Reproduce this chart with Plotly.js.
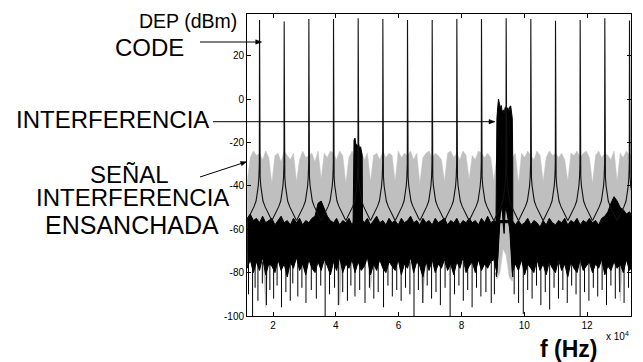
<!DOCTYPE html>
<html>
<head>
<meta charset="utf-8">
<script src="https://cdn.plot.ly/plotly-3.0.1.min.js"></script>
<style>html,body{margin:0;padding:0;background:#fff;}#chart{width:643px;height:362px;}</style>
</head>
<body>
<div id="chart"></div>
<script>
// ---------- DATA ----------
// frequency grid of the sampled spectra (x 10^4 Hz)
const fStart = 1.178;
const fStep = 0.09817;

// spread interference spectrum (grey): upper and lower envelope, dBm
const grayTop = [
 -38,-27,-24,-26,-25,-28,-24,-27,
 -39,-26,-25,-29,-24,-26,-28,-25,
 -38,-28,-24,-27,-26,-25,-29,-24,
 -37,-25,-27,-24,-25,-28,-24,-26,
 -39,-27,-24,-26,-25,-24,-28,-25,
 -38,-26,-25,-28,-24,-27,-25,-26,
 -38,-24,-27,-25,-26,-24,-28,-25,
 -39,-27,-25,-24,-27,-25,-26,-28,
 -38,-25,-24,-27,-25,-28,-24,-26,
 -37,-26,-28,-24,-25,-27,-25,-27,
 -38,-26,-25,-24,-26,-25,-27,-25,
 -39,-25,-27,-24,-26,-28,-24,-26,
 -38,-27,-24,-26,-25,-27,-25,-28,
 -38,-25,-26,-24,-27,-25,-24,-27,
 -39,-26,-24,-27,-25,-26,-28,-24,
 -38,-25,-27,-24,-26,-25
];
const grayBot = [
 -70,-70,-70,-70,-70,-70,-96,-70,
 -70,-70,-70,-70,-70,-70,-70,-70,
 -70,-70,-70,-70,-70,-70,-70,-70,
 -70,-70,-70,-70,-70,-70,-95,-70,
 -70,-70,-70,-70,-70,-70,-70,-70,
 -88,-70,-70,-70,-70,-70,-70,-70,
 -70,-70,-70,-70,-70,-70,-70,-70,
 -70,-94,-70,-70,-70,-70,-70,-70,
 -70,-70,-70,-70,-70,-70,-70,-70,
 -70,-70,-70,-70,-70,-70,-70,-70,
 -70,-83,-80,-69,-72,-82,-84,-70,
 -70,-70,-70,-70,-70,-70,-70,-70,
 -70,-70,-70,-70,-70,-70,-70,-70,
 -70,-70,-70,-70,-70,-70,-70,-70,
 -70,-70,-70,-70,-70,-70,-70,-70,
 -70,-93,-70,-70,-70,-70
];

// received signal spectrum (black noise floor): upper and lower envelope, dBm
const blackTop = [
 -55,-53,-56,-55,-57,-54,-57,-56,
 -55,-58,-56,-54,-57,-56,-58,-55,
 -57,-55,-58,-56,-57,-55,-54,-48,
 -47,-51,-54,-56,-57,-55,-58,-56,
 -57,-55,-58,-55,-56,-55,-57,-55,
 -58,-56,-54,-57,-56,-58,-55,-57,
 -56,-58,-55,-57,-56,-54,-57,-56,
 -58,-55,-57,-56,-58,-55,-57,-56,
 -55,-58,-56,-57,-55,-58,-56,-57,
 -55,-57,-56,-58,-55,-57,-54,-57,
 -56,-57,-57,-57,-57,-57,-56,-58,
 -56,-58,-57,-55,-58,-56,-57,-59,
 -56,-58,-55,-57,-58,-56,-57,-55,
 -58,-56,-57,-55,-58,-56,-57,-55,
 -57,-56,-58,-55,-54,-52,-48,-45,
 -47,-50,-51,-53,-52,-54
];
const blackBot = [
 -78,-74,-80,-75,-79,-73,-81,-76,
 -77,-80,-74,-79,-76,-82,-75,-78,
 -73,-79,-76,-81,-74,-78,-80,-75,
 -79,-74,-77,-81,-75,-79,-73,-80,
 -76,-78,-74,-80,-75,-79,-77,-73,
 -81,-76,-79,-74,-78,-80,-75,-77,
 -79,-74,-81,-76,-78,-73,-80,-75,
 -77,-82,-75,-79,-74,-80,-76,-78,
 -74,-79,-76,-81,-75,-78,-73,-80,
 -77,-75,-80,-74,-79,-76,-78,-75,
 -74,-80,-56,-56,-56,-56,-80,-76,
 -79,-74,-81,-76,-78,-80,-74,-79,
 -76,-81,-75,-78,-80,-74,-79,-76,
 -82,-75,-78,-80,-74,-79,-77,-75,
 -80,-76,-78,-74,-81,-77,-79,-75,
 -78,-76,-80,-74,-79,-77
];

// thin noise spikes hanging below the black floor: frequency and lowest level
const spikeF = [1.22,1.35,1.43,1.52,1.66,1.79,1.90,2.02,2.13,2.27,2.41,2.55,2.63,2.79,2.92,3.05,3.22,3.38,3.52,3.66,
  3.80,3.96,4.08,4.22,4.37,4.48,4.61,4.76,4.93,5.07,5.21,5.35,5.52,5.66,5.80,5.94,6.08,6.22,6.36,6.49,
  6.63,6.77,6.91,7.05,7.19,7.33,7.48,7.64,7.78,7.92,8.06,8.20,8.34,8.48,8.62,8.78,8.95,9.05,9.68,9.82,
  9.97,10.11,10.25,10.39,10.53,10.67,10.81,10.95,11.09,11.23,11.37,11.51,11.65,11.78,11.92,12.06,12.20,12.34,12.48,12.62,
  12.76,12.90,13.04,13.18,13.32];
const spikeLow = [-90,-100,-87,-93,-85,-95,-88,-92,-86,-96,-89,-93,-85,-91,-87,-94,-88,-92,-86,-100,
  -90,-87,-95,-89,-93,-86,-91,-88,-94,-87,-92,-89,-96,-86,-91,-88,-93,-87,-90,-100,
  -88,-94,-86,-92,-89,-95,-87,-100,-90,-86,-93,-88,-96,-87,-91,-89,-94,-90,-90,-94,
  -99,-88,-92,-86,-95,-89,-97,-87,-92,-88,-94,-86,-90,-100,-89,-93,-87,-91,-88,-95,
  -86,-92,-89,-94,-87];
const spikeFrom = -75;

// narrow component near 4.7 x 10^4 Hz
const block46F   = [4.55, 4.56, 4.58, 4.61, 4.64, 4.67, 4.70, 4.73, 4.76, 4.79, 4.82, 4.84, 4.85];
const block46Top = [-57, -23, -19, -18, -21, -21, -22, -21, -23, -22, -24, -26, -57];
const block46Bot = [-60, -62, -64, -63, -66, -65, -64, -66, -63, -65, -62, -61, -60];

// narrowband interference near 9.3 x 10^4 Hz
const interfF   = [9.10, 9.115, 9.13, 9.16, 9.18, 9.21, 9.24, 9.27, 9.30, 9.33, 9.36, 9.39, 9.42, 9.45, 9.48, 9.51, 9.54, 9.57, 9.60, 9.62, 9.635, 9.645];
const interfTop = [-57, -22, -9, -3, 0, -2, -4, -3, -6.5, -5, -7, -4, -3.5, -5.5, -4, -6, -3.5, -3.2, -6, -9, -30, -57];
const interfBot = [-80, -82, -80, -72, -62, -57, -53, -51, -50, -58, -62, -52, -50, -51, -54, -57, -60, -63, -70, -78, -82, -80];

// code spectral lines (x 10^4 Hz) and their peak levels (dBm)
const codeF    = [1.571, 2.356, 3.142, 3.927, 4.712, 5.498, 6.283, 7.069, 7.854, 8.639, 9.425, 10.210, 10.996, 11.781, 12.566, 13.352];
const codePeak = [36.4, 35.8, 36.9, 36.9, 37.2, 36.9, 36.4, 36.4, 36.9, 36.9, 37.2, 36.9, 36.1, 36.4, 37.2, 36.2];
// shape of each line's skirt: offset from line (x 10^4 Hz) and level (dBm)
const skirtOff = [0.39, 0.32, 0.25, 0.175, 0.11, 0.07, 0.04, 0.02, 0.007];
const skirtDb  = [-56, -54, -52, -49.6, -47, -44, -40, -36, -30];

// axis ticks
const xTicks = [2, 4, 6, 8, 10, 12];
const yTicks = [-100, -80, -60, -40, -20, 0, 20];
const yTickText = ['-100', '-80', '-60', '-40', '-20', '0', '20'];

// ---------- BUILD ----------
const FONT = 'Liberation Sans, Arial, Helvetica, sans-serif';
const grid = grayTop.map((_, i) => +(fStart + i * fStep).toFixed(4));

const traces = [];
// grey band
traces.push({x: grid, y: grayBot, type: 'scatter', mode: 'lines', line: {color: '#bfbfbf', width: 0.5}, hoverinfo: 'skip'});
traces.push({x: grid, y: grayTop, type: 'scatter', mode: 'lines', fill: 'tonexty', fillcolor: '#bfbfbf', line: {color: '#bfbfbf', width: 0.5}, hoverinfo: 'skip'});
// black band
traces.push({x: grid, y: blackBot, type: 'scatter', mode: 'lines', line: {color: '#000', width: 1}, hoverinfo: 'skip'});
traces.push({x: grid, y: blackTop, type: 'scatter', mode: 'lines', fill: 'tonexty', fillcolor: '#000', line: {color: '#000', width: 1}, hoverinfo: 'skip'});
// thin spikes
const sx = [], sy = [];
spikeF.forEach((f, k) => { sx.push(f, f, null); sy.push(spikeFrom, spikeLow[k], null); });
traces.push({x: sx, y: sy, type: 'scatter', mode: 'lines', line: {color: '#000', width: 1}, hoverinfo: 'skip'});
// narrow block
traces.push({x: block46F.concat(block46F.slice().reverse()), y: block46Top.concat(block46Bot.slice().reverse()),
  type: 'scatter', mode: 'lines', fill: 'toself', fillcolor: '#000', line: {color: '#000', width: 1}, hoverinfo: 'skip'});
// interference
traces.push({x: interfF.concat(interfF.slice().reverse()), y: interfTop.concat(interfBot.slice().reverse()),
  type: 'scatter', mode: 'lines', fill: 'toself', fillcolor: '#000', line: {color: '#000', width: 1}, hoverinfo: 'skip'});
// code lines
const cx = [], cy = [];
codeF.forEach((f, k) => {
  for (let j = 0; j < skirtOff.length; j++) { cx.push(f - skirtOff[j]); cy.push(skirtDb[j]); }
  cx.push(f); cy.push(codePeak[k]);
  for (let j = skirtOff.length - 1; j >= 0; j--) { cx.push(f + skirtOff[j]); cy.push(skirtDb[j]); }
  cx.push(null); cy.push(null);
});
traces.push({x: cx, y: cy, type: 'scatter', mode: 'lines', line: {color: '#111', width: 1.1}, hoverinfo: 'skip'});

// layout helpers: pixel -> paper
const L = 247, R = 631, T = 14, B = 316;
const px = v => (v - L) / (R - L);
const py = v => (B - v) / (B - T);

function label(text, x, y, size, bold) {
  return {xref: 'paper', yref: 'paper', x: px(x), y: py(y), xanchor: 'center', yanchor: 'middle',
    text: bold ? '<b>' + text + '</b>' : text, showarrow: false,
    font: {family: FONT, size: size, color: '#000'}};
}
// arrow drawn as a shaft plus a small filled head (pixel coordinates of tail and head)
function arrowShapes(tx, ty, hx, hy) {
  const dx = hx - tx, dy = hy - ty, len = Math.hypot(dx, dy);
  const ux = dx / len, uy = dy / len, hl = 6, hw = 2.2;
  const bx = hx - ux * hl, by = hy - uy * hl;
  const p1 = [bx - uy * hw, by + ux * hw], p2 = [bx + uy * hw, by - ux * hw];
  return [
    {type: 'line', xref: 'paper', yref: 'paper', x0: px(tx), y0: py(ty), x1: px(bx), y1: py(by), line: {color: '#000', width: 1}},
    {type: 'path', xref: 'paper', yref: 'paper',
     path: `M ${px(hx)},${py(hy)} L ${px(p1[0])},${py(p1[1])} L ${px(p2[0])},${py(p2[1])} Z`,
     fillcolor: '#000', line: {color: '#000', width: 0.5}}
  ];
}

const layout = {
  width: 643, height: 362,
  margin: {l: L, r: 643 - R, t: T, b: 362 - B, pad: 0},
  paper_bgcolor: '#fff', plot_bgcolor: '#fff',
  showlegend: false,
  xaxis: {range: [1.172, 13.40], tickvals: xTicks, ticks: 'inside', ticklen: 4, tickcolor: '#000',
    showline: true, linecolor: '#000', linewidth: 1, mirror: 'ticks', showgrid: false, zeroline: false,
    tickfont: {family: FONT, size: 10, color: '#000'}},
  yaxis: {range: [-100, 39.2], tickvals: yTicks, ticktext: yTickText, ticks: 'inside', ticklen: 4, tickcolor: '#000',
    showline: true, linecolor: '#000', linewidth: 1, mirror: 'ticks', showgrid: false, zeroline: false,
    tickfont: {family: FONT, size: 10, color: '#000'}},
  shapes: [].concat(
    arrowShapes(200, 42, 261.7, 42),
    arrowShapes(213, 121.7, 495, 121.7),
    arrowShapes(200, 177, 246.7, 161.7)
  ),
  annotations: [
    label('DEP (dBm)', 187.5, 21, 19.5),
    label('CODE', 149, 47, 24),
    label('INTERFERENCIA', 112.5, 119, 24),
    label('SEÑAL', 129, 175, 24),
    label('INTERFERENCIA', 132.3, 197, 24),
    label('ENSANCHADA', 131.5, 225, 25),
    label('f (Hz)', 568, 349, 23, true),
    label('x 10<sup>4</sup>', 617, 336, 10)
  ]
};

Plotly.newPlot('chart', traces, layout, {displayModeBar: false, staticPlot: true});
</script>
</body>
</html>
